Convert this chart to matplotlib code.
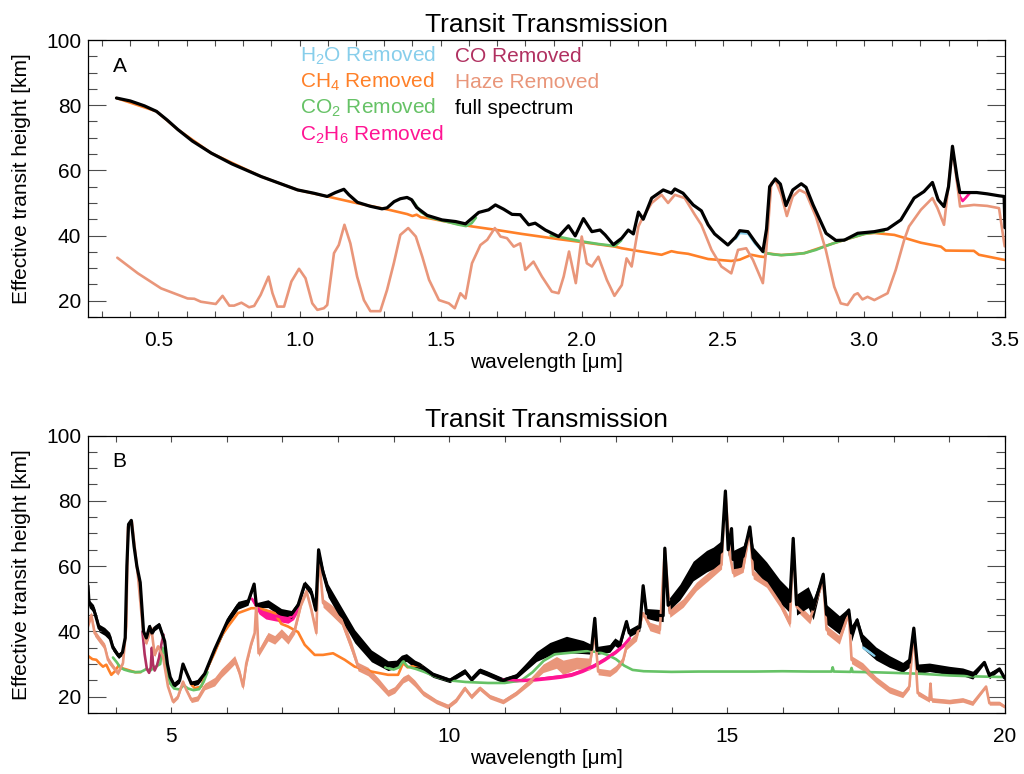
import numpy as np
import matplotlib.pyplot as plt
from matplotlib.ticker import MultipleLocator, FormatStrFormatter

plt.rcParams['font.family'] = ['Liberation Sans', 'DejaVu Sans']
plt.rcParams['mathtext.fontset'] = 'custom'
plt.rcParams['mathtext.rm'] = 'Liberation Sans'
plt.rcParams['mathtext.default'] = 'regular'

# colours for each model run
colors = {
    'h2o': '#87CEEB',
    'ch4': '#FF8028',
    'co2': '#66C266',
    'c2h6': '#FF1493',
    'co': '#B03060',
    'haze': '#E9967A',
    'full': 'black',
}

# ---------------- panel A : 0.25 - 3.5 micron  [wavelength, height] ----------------
full_a = [[
    [0.351, 82.2], [0.40, 81.3], [0.45, 79.8], [0.493, 78.1], [0.53, 75.5], [0.569, 72.5],
    [0.62, 69.0], [0.687, 65.3], [0.76, 62.0], [0.864, 58.1], [0.93, 56.0], [0.993, 54.0],
    [1.05, 53.0], [1.098, 52.0], [1.127, 53.2], [1.157, 54.2], [1.175, 52.5], [1.205, 50.2],
    [1.25, 49.0], [1.292, 48.2], [1.31, 48.5], [1.335, 50.4], [1.357, 51.3], [1.381, 51.7],
    [1.397, 51.0], [1.415, 48.6], [1.452, 46.2], [1.505, 44.8], [1.553, 44.3], [1.588, 43.6],
    [1.611, 45.3], [1.635, 47.1], [1.67, 47.9], [1.694, 49.4], [1.723, 48.1], [1.753, 46.5],
    [1.782, 46.4], [1.812, 43.3], [1.835, 43.8], [1.871, 41.7], [1.918, 39.7], [1.953, 43.0],
    [1.977, 39.9], [2.006, 45.2], [2.036, 41.2], [2.065, 41.7], [2.083, 40.2], [2.112, 37.2],
    [2.142, 39.2], [2.165, 41.7], [2.183, 40.5], [2.201, 47.2], [2.218, 45.0], [2.248, 51.5],
    [2.289, 54.0], [2.318, 53.0], [2.330, 54.3], [2.359, 53.0], [2.395, 49.4], [2.424, 47.6],
    [2.448, 43.3], [2.471, 40.5], [2.518, 37.1], [2.545, 39.5], [2.560, 41.5], [2.589, 41.2],
    [2.615, 38.0], [2.642, 35.1], [2.655, 42.0], [2.666, 55.0], [2.686, 57.4], [2.704, 55.8],
    [2.724, 49.2], [2.748, 54.0], [2.778, 55.9], [2.795, 54.8], [2.820, 49.4], [2.866, 40.7],
    [2.901, 38.5], [2.931, 38.6], [2.978, 40.7], [3.037, 41.2], [3.084, 42.0], [3.131, 44.8],
    [3.178, 51.5], [3.213, 53.5], [3.243, 56.3], [3.263, 51.0], [3.284, 48.9], [3.300, 55.0],
    [3.314, 67.4], [3.330, 58.0], [3.340, 53.2], [3.40, 53.2], [3.437, 52.8], [3.479, 52.2],
    [3.497, 52.0], [3.50, 42.4],
]]

ch4_a = [[
    [0.351, 82.2], [0.493, 78.1], [0.569, 72.5], [0.687, 65.3], [0.864, 58.1], [0.993, 54.0],
    [1.098, 52.0], [1.20, 50.0], [1.317, 47.9], [1.381, 46.6], [1.40, 46.0], [1.415, 46.4],
    [1.43, 45.6], [1.459, 45.3], [1.535, 44.0], [1.611, 42.8], [1.70, 41.7], [1.788, 40.5],
    [1.918, 38.9], [2.00, 38.0], [2.118, 36.6], [2.142, 36.1], [2.176, 35.6], [2.283, 34.1],
    [2.318, 35.2], [2.340, 34.8], [2.377, 34.4], [2.448, 32.8], [2.530, 32.2], [2.560, 32.6],
    [2.601, 34.1], [2.630, 33.6], [2.648, 33.4], [2.654, 34.6], [2.707, 34.0], [2.789, 34.6],
    [2.895, 37.7], [3.002, 40.5], [3.037, 40.8], [3.108, 40.2], [3.202, 37.8], [3.273, 36.6],
    [3.290, 35.4], [3.390, 35.3], [3.408, 34.1], [3.50, 32.5],
]]

co2_a = [
    [[1.40, 50.8], [1.43, 47.2], [1.46, 45.6], [1.52, 44.3], [1.56, 43.4], [1.59, 42.9],
     [1.61, 43.8], [1.625, 45.5]],
    [[1.89, 40.0], [1.92, 39.6], [1.96, 38.9], [2.00, 38.2], [2.06, 37.4], [2.118, 36.8],
     [2.14, 38.5]],
    [[2.640, 35.3], [2.654, 34.6], [2.68, 34.2], [2.707, 34.0], [2.75, 34.2], [2.789, 34.6],
     [2.83, 35.6], [2.865, 36.8], [2.895, 37.7], [2.95, 39.2], [3.002, 40.5], [3.04, 41.0],
     [3.07, 41.3]],
]

h2o_a = [[[2.545, 39.0], [2.56, 40.8], [2.59, 40.6], [2.615, 37.5], [2.645, 34.8]]]

c2h6_a = [[[3.33, 57.0], [3.34, 52.0], [3.35, 50.6], [3.36, 51.5], [3.375, 53.0]]]

haze_a = [[
    [0.354, 33.2], [0.427, 28.4], [0.509, 23.8], [0.603, 20.7], [0.627, 20.6], [0.650, 19.7],
    [0.703, 19.0], [0.727, 21.5], [0.751, 18.5], [0.768, 18.5], [0.794, 19.4], [0.821, 18.0],
    [0.839, 18.4], [0.862, 21.8], [0.890, 27.4], [0.904, 22.3], [0.921, 18.2], [0.945, 18.2],
    [0.971, 25.9], [0.998, 29.8], [1.021, 26.9], [1.045, 19.2], [1.063, 17.2], [1.086, 17.7],
    [1.098, 18.7], [1.122, 34.6], [1.139, 37.1], [1.159, 43.3], [1.180, 37.6], [1.204, 27.4],
    [1.228, 20.2], [1.251, 16.8], [1.286, 16.8], [1.310, 23.3], [1.334, 31.5], [1.357, 40.2],
    [1.385, 42.3], [1.412, 39.7], [1.435, 33.5], [1.459, 26.4], [1.494, 20.2], [1.529, 19.2],
    [1.550, 17.7], [1.570, 22.3], [1.588, 20.7], [1.611, 31.5], [1.641, 37.1], [1.665, 38.7],
    [1.692, 42.3], [1.712, 39.7], [1.735, 39.2], [1.759, 36.6], [1.782, 37.6], [1.800, 29.5],
    [1.829, 32.0], [1.859, 27.4], [1.894, 22.8], [1.918, 22.3], [1.936, 27.4], [1.955, 35.1],
    [1.979, 25.4], [2.000, 39.7], [2.018, 31.5], [2.036, 30.5], [2.059, 33.5], [2.089, 26.4],
    [2.116, 21.5], [2.142, 24.8], [2.159, 33.0], [2.177, 30.5], [2.201, 42.8], [2.212, 44.8],
    [2.248, 50.0], [2.283, 52.5], [2.306, 50.0], [2.330, 52.5], [2.365, 51.5], [2.400, 46.5],
    [2.424, 43.3], [2.460, 35.6], [2.495, 30.5], [2.530, 28.4], [2.554, 35.6], [2.583, 36.1],
    [2.607, 32.5], [2.642, 25.4], [2.654, 35.6], [2.672, 56.1], [2.686, 57.1], [2.707, 52.5],
    [2.727, 46.0], [2.748, 52.0], [2.772, 54.0], [2.795, 53.0], [2.830, 45.8], [2.865, 35.6],
    [2.895, 24.3], [2.918, 19.2], [2.942, 18.7], [2.966, 21.8], [2.978, 22.3], [2.995, 20.4],
    [3.013, 21.2], [3.037, 20.2], [3.084, 22.3], [3.113, 29.5], [3.143, 38.7], [3.160, 42.8],
    [3.202, 47.9], [3.243, 51.5], [3.261, 48.4], [3.284, 43.3], [3.302, 57.1], [3.314, 66.3],
    [3.329, 57.1], [3.341, 48.9], [3.390, 49.4], [3.437, 49.1], [3.479, 48.4], [3.499, 36.7],
]]

# ---------------- panel B : 3.5 - 20 micron  [wavelength, height, scatter] ----------------
full_b = [[
    [3.50, 54.0, 0.5], [3.52, 48.5, 1.2], [3.60, 47.0, 1.2], [3.66, 43.5, 1.2], [3.70, 41.0, 1.2],
    [3.80, 40.0, 1.2], [3.89, 38.5, 1.2], [3.95, 35.0, 1.0], [4.05, 32.5, 0.8], [4.12, 33.5, 0.8],
    [4.17, 38.0, 0.5], [4.20, 60.0, 0.3], [4.23, 72.8, 0.3], [4.28, 74.0, 0.3], [4.33, 66.0, 0.3],
    [4.38, 60.0, 0.3], [4.44, 55.0, 0.3], [4.50, 40.0, 0.5], [4.55, 38.0, 0.5], [4.61, 41.5, 0.8],
    [4.65, 39.5, 0.8], [4.70, 41.0, 0.8], [4.78, 42.0, 0.8], [4.83, 39.5, 0.8], [4.88, 37.0, 0.5],
    [4.93, 30.0, 0.5], [4.98, 26.0, 0.5], [5.05, 23.6, 0.8], [5.15, 25.0, 0.8], [5.21, 30.0, 0.5],
    [5.27, 27.5, 0.5], [5.36, 24.0, 0.8], [5.48, 24.5, 0.8], [5.60, 27.0, 0.8], [5.78, 34.5, 1.0],
    [6.02, 43.5, 1.2], [6.20, 48.0, 1.2], [6.38, 49.0, 1.0], [6.49, 54.5, 0.5], [6.53, 48.0, 0.8],
    [6.74, 48.5, 1.2], [6.98, 45.8, 1.2], [7.16, 45.2, 1.2], [7.28, 48.0, 1.2], [7.40, 54.5, 1.0],
    [7.52, 52.0, 1.2], [7.60, 46.5, 1.0], [7.65, 65.0, 0.5], [7.73, 58.0, 1.5], [7.82, 52.5, 2.0],
    [8.06, 45.5, 2.0], [8.30, 38.5, 2.0], [8.60, 32.5, 1.8], [8.90, 29.5, 1.5], [9.05, 30.0, 1.2],
    [9.14, 31.5, 1.2], [9.23, 32.0, 1.2], [9.38, 30.0, 1.2], [9.47, 29.5, 1.0], [9.71, 26.7, 0.8],
    [10.01, 25.0, 0.7], [10.28, 27.8, 0.8], [10.40, 25.3, 0.7], [10.55, 28.0, 0.8],
    [10.67, 27.2, 0.8], [10.97, 25.0, 0.8], [11.21, 26.3, 0.8], [11.57, 32.3, 1.5],
    [11.81, 34.6, 2.0], [12.11, 36.0, 2.5], [12.41, 35.2, 2.0], [12.56, 34.5, 1.5],
    [12.62, 44.0, 0.5], [12.66, 34.2, 1.2], [12.89, 34.8, 1.2], [12.98, 36.8, 1.2],
    [13.07, 35.8, 1.2], [13.19, 43.0, 0.8], [13.24, 39.5, 1.2], [13.43, 41.3, 1.2],
    [13.49, 54.0, 0.5], [13.55, 45.5, 1.5], [13.73, 45.0, 1.8], [13.85, 44.8, 1.8],
    [13.88, 65.5, 0.5], [13.94, 48.0, 1.8], [14.15, 52.0, 2.4], [14.39, 58.5, 3.0],
    [14.63, 61.5, 3.3], [14.75, 62.5, 3.3], [14.90, 64.5, 3.3], [14.97, 83.0, 0.5],
    [15.02, 65.0, 2.0], [15.08, 71.5, 0.5], [15.11, 62.0, 2.8], [15.29, 63.0, 3.3],
    [15.41, 72.0, 0.5], [15.47, 62.5, 3.3], [15.71, 58.0, 3.3], [15.95, 52.3, 3.5],
    [16.13, 49.2, 3.5], [16.19, 68.5, 0.5], [16.25, 48.2, 3.2], [16.46, 50.5, 3.2],
    [16.55, 46.8, 3.2], [16.73, 57.5, 0.8], [16.79, 45.2, 3.0], [17.02, 42.0, 2.8],
    [17.19, 46.5, 0.8], [17.24, 39.5, 2.5], [17.34, 43.5, 0.8], [17.44, 37.0, 2.2],
    [17.68, 33.2, 2.0], [17.92, 30.8, 1.8], [18.16, 29.0, 1.5], [18.28, 30.5, 1.5],
    [18.36, 41.0, 0.5], [18.43, 28.5, 1.5], [18.64, 29.0, 1.3], [19.00, 28.0, 1.3],
    [19.24, 27.6, 1.2], [19.42, 26.6, 1.2], [19.63, 30.5, 0.5], [19.72, 26.5, 1.0],
    [19.90, 28.5, 0.5], [19.99, 25.8, 0.8],
]]

ch4_b = [
    [[3.50, 32.5], [3.58, 31.5], [3.65, 31.3], [3.72, 30.0], [3.77, 29.2], [3.83, 29.8],
     [3.88, 28.0], [3.92, 26.7], [3.98, 27.7], [4.05, 29.5], [4.10, 28.8], [4.20, 28.3],
     [4.35, 27.5], [4.45, 27.5]],
    [[5.35, 24.0], [5.42, 22.6], [5.54, 23.1], [5.66, 29.2], [5.78, 33.5], [5.90, 38.5],
     [6.02, 41.5], [6.20, 45.6], [6.44, 47.1], [6.56, 47.1], [6.70, 46.5], [6.86, 45.6],
     [6.98, 42.3], [7.10, 41.5], [7.28, 39.8], [7.40, 35.9], [7.58, 32.8], [7.73, 32.8],
     [7.91, 33.3], [8.12, 31.3], [8.30, 29.2], [8.60, 27.7], [8.90, 26.7], [9.08, 26.7],
     [9.17, 30.3], [9.25, 29.0], [9.40, 29.5], [9.50, 29.3]],
]

co2_b = [
    [[3.95, 32.0], [4.02, 30.5], [4.08, 29.0], [4.15, 28.3], [4.25, 27.8], [4.35, 27.5],
     [4.45, 27.6], [4.50, 28.0], [4.55, 28.5], [4.62, 28.0], [4.70, 29.0], [4.80, 30.0],
     [4.84, 35.0], [4.88, 33.0], [4.92, 28.0], [4.98, 24.0], [5.05, 22.5], [5.15, 22.2],
     [5.22, 23.5], [5.30, 22.5], [5.40, 22.0], [5.50, 22.3], [5.58, 24.5], [5.65, 27.5]],
    [[8.85, 29.0], [9.00, 28.3], [9.10, 29.0], [9.17, 31.0], [9.25, 29.2], [9.40, 28.5],
     [9.55, 27.6], [9.75, 26.2], [10.00, 25.0], [10.30, 24.5], [10.70, 24.2], [11.00, 24.2],
     [11.30, 25.0], [11.50, 27.5], [11.70, 31.0], [11.90, 33.0], [12.20, 33.5], [12.50, 34.0],
     [12.70, 33.6], [12.85, 32.8], [13.00, 31.5], [13.15, 29.5], [13.30, 28.2], [13.50, 27.8],
     [14.00, 27.6], [14.50, 27.7], [15.00, 27.7], [15.50, 27.7], [16.00, 27.8], [16.50, 27.7],
     [16.88, 27.7], [16.90, 29.0], [16.92, 27.7], [17.22, 27.6], [17.24, 28.8], [17.26, 27.6],
     [17.60, 27.5], [18.00, 27.3], [18.50, 27.0], [19.00, 26.5], [19.50, 26.2], [20.00, 26.0]],
]

h2o_b = [[[17.45, 35.0], [17.55, 33.8], [17.65, 32.6]]]

c2h6_b = [
    [[6.45, 50.0, 0.5], [6.52, 48.0, 1.0], [6.58, 46.5, 1.2], [6.70, 45.3, 1.5], [6.85, 44.8, 1.5],
     [7.00, 44.3, 1.5], [7.10, 44.0, 1.5], [7.20, 44.8, 1.2], [7.28, 47.0, 1.0], [7.33, 49.0, 0.5]],
    [[10.95, 25.3, 0.5], [11.20, 25.0, 0.5], [11.50, 25.2, 0.5], [11.80, 25.8, 0.6],
     [12.00, 26.2, 0.6], [12.20, 26.8, 0.6], [12.40, 28.0, 0.6], [12.60, 29.5, 0.6],
     [12.80, 31.5, 0.6], [13.00, 33.8, 0.6], [13.15, 36.0, 0.6], [13.25, 38.0, 0.5]],
]

co_b = [[[4.48, 40.0], [4.52, 33.0], [4.56, 28.5], [4.60, 27.3], [4.63, 29.0], [4.65, 35.0],
         [4.67, 30.0], [4.70, 28.0], [4.74, 29.5], [4.78, 32.0], [4.82, 36.0], [4.86, 39.0]]]

haze_b = [[
    [3.50, 42.0, 1.2], [3.56, 45.0, 1.0], [3.62, 39.5, 1.0], [3.71, 37.4, 1.0], [3.80, 35.4, 1.0],
    [3.86, 31.3, 1.0], [3.95, 29.2, 0.8], [4.04, 27.2, 0.6], [4.13, 30.3, 0.5], [4.19, 41.5, 0.3],
    [4.22, 72.0, 0.3], [4.29, 73.7, 0.3], [4.40, 56.8, 0.3], [4.49, 40.5, 0.5], [4.55, 36.4, 0.6],
    [4.64, 41.0, 0.6], [4.70, 32.8, 0.6], [4.76, 35.4, 0.6], [4.85, 32.3, 0.6], [4.94, 23.1, 0.6],
    [5.03, 18.5, 0.6], [5.12, 20.0, 0.6], [5.21, 24.6, 0.6], [5.27, 22.1, 0.6], [5.36, 19.0, 0.8],
    [5.48, 19.5, 0.8], [5.60, 23.1, 1.0], [5.78, 24.6, 1.3], [5.90, 27.2, 1.3], [6.02, 29.2, 1.3],
    [6.14, 31.3, 1.3], [6.23, 27.2, 1.3], [6.29, 23.1, 1.0], [6.35, 30.3, 1.3], [6.44, 36.4, 1.0],
    [6.50, 39.5, 0.8], [6.53, 48.7, 0.5], [6.57, 33.3, 1.0], [6.74, 38.4, 1.3], [6.86, 37.4, 1.3],
    [6.98, 39.5, 1.3], [7.10, 37.4, 1.3], [7.22, 40.5, 1.2], [7.34, 48.7, 1.0], [7.43, 52.3, 1.0],
    [7.52, 46.6, 1.0], [7.61, 39.5, 1.0], [7.65, 64.0, 0.5], [7.73, 48.7, 1.3], [7.88, 46.6, 1.6],
    [8.06, 43.6, 1.6], [8.24, 35.4, 1.6], [8.36, 29.2, 1.3], [8.54, 27.7, 1.3], [8.72, 24.6, 1.2],
    [8.90, 21.1, 1.0], [9.02, 22.1, 1.0], [9.17, 25.2, 1.0], [9.26, 26.0, 1.0], [9.38, 24.1, 1.0],
    [9.53, 21.1, 0.8], [9.77, 18.5, 0.7], [9.98, 17.0, 0.7], [10.13, 19.0, 0.7], [10.28, 22.6, 0.7],
    [10.40, 20.0, 0.7], [10.55, 22.6, 0.7], [10.73, 20.0, 0.7], [10.97, 18.5, 0.7],
    [11.21, 21.1, 0.7], [11.45, 24.6, 0.9], [11.69, 28.7, 1.3], [11.93, 30.5, 1.8],
    [12.05, 29.0, 2.2], [12.29, 30.3, 1.8], [12.53, 30.0, 1.8], [12.62, 39.5, 0.5],
    [12.68, 27.7, 1.0], [12.89, 27.2, 1.0], [13.01, 28.7, 1.0], [13.13, 31.3, 1.0],
    [13.19, 35.4, 1.0], [13.37, 38.4, 1.3], [13.49, 45.6, 0.5], [13.61, 41.5, 1.3],
    [13.79, 40.5, 1.3], [13.88, 65.0, 0.5], [13.97, 45.6, 1.3], [14.21, 48.7, 1.3],
    [14.45, 53.8, 1.3], [14.66, 56.8, 1.3], [14.90, 60.4, 1.3], [14.97, 82.4, 0.5],
    [15.05, 63.5, 1.0], [15.11, 57.9, 1.3], [15.29, 59.4, 1.3], [15.41, 71.2, 0.5],
    [15.47, 57.4, 1.3], [15.71, 54.8, 1.3], [15.95, 48.7, 1.3], [16.13, 42.5, 1.3],
    [16.19, 67.1, 0.5], [16.25, 47.6, 1.3], [16.49, 43.6, 1.3], [16.73, 55.8, 0.5],
    [16.79, 40.5, 1.3], [17.02, 37.4, 1.3], [17.19, 45.6, 0.5], [17.24, 31.3, 1.2],
    [17.44, 29.2, 1.2], [17.68, 25.2, 1.0], [17.92, 22.1, 1.0], [18.16, 20.6, 0.9],
    [18.28, 23.1, 0.8], [18.36, 40.5, 0.4], [18.43, 21.1, 0.8], [18.64, 19.0, 0.7],
    [18.66, 24.0, 0.3], [18.68, 19.0, 0.7], [19.00, 18.5, 0.7], [19.24, 19.0, 0.7],
    [19.42, 18.0, 0.7], [19.66, 23.1, 0.4], [19.72, 18.0, 0.6], [19.90, 18.0, 0.6],
    [19.99, 17.0, 0.5],
]]

legend_col1 = ['H$_2$O Removed', 'CH$_4$ Removed', 'CO$_2$ Removed', 'C$_2$H$_6$ Removed']
legend_col1_keys = ['h2o', 'ch4', 'co2', 'c2h6']
legend_col2 = ['CO Removed', 'Haze Removed', 'full spectrum']
legend_col2_keys = ['co', 'haze', 'full']


def trace(ax, segments, color, lw):
    for seg in segments:
        d = np.asarray(seg, dtype=float)
        ax.plot(d[:, 0], d[:, 1], color=color, lw=lw, solid_joinstyle='round',
                solid_capstyle='round')
        if d.shape[1] == 3:
            ax.fill_between(d[:, 0], d[:, 1] - d[:, 2], d[:, 1] + d[:, 2],
                            color=color, lw=0)


fig = plt.figure(figsize=(10.24, 7.74), dpi=100)
ax_a = fig.add_axes([0.0859, 0.5904, 0.8955, 0.3579])
ax_b = fig.add_axes([0.0859, 0.0788, 0.8955, 0.3585])

panels = [
    (ax_a, 'A', (0.25, 3.5), 0.5, 0.1, '%.1f',
     [('h2o', h2o_a), ('ch4', ch4_a), ('co2', co2_a), ('c2h6', c2h6_a), ('haze', haze_a),
      ('full', full_a)]),
    (ax_b, 'B', (3.5, 20), 5, 1, '%d',
     [('h2o', h2o_b), ('ch4', ch4_b), ('co2', co2_b), ('c2h6', c2h6_b), ('co', co_b),
      ('haze', haze_b), ('full', full_b)]),
]

for ax, tag, xlim, major, minor, fmt, series in panels:
    for key, segs in series:
        trace(ax, segs, colors[key], 2.3 if key == 'full' else 1.9)

    ax.set_xlim(*xlim)
    ax.set_ylim(15, 100)
    ax.xaxis.set_major_locator(MultipleLocator(major))
    ax.xaxis.set_minor_locator(MultipleLocator(minor))
    ax.xaxis.set_major_formatter(FormatStrFormatter(fmt))
    ax.yaxis.set_major_locator(MultipleLocator(20))
    ax.yaxis.set_minor_locator(MultipleLocator(5))
    ax.tick_params(which='both', direction='in', top=True, right=True,
                   labelsize=15, width=0.8, color='0.3')
    ax.tick_params(axis='y', which='major', length=13, pad=5)
    ax.tick_params(axis='y', which='minor', length=6.5)
    ax.tick_params(axis='x', which='both', length=4, pad=10)
    for sp in ax.spines.values():
        sp.set_linewidth(0.9)

    ax.set_title('Transit Transmission', fontsize=19, pad=6)
    ax.set_xlabel('wavelength [\u03bcm]', fontsize=15, labelpad=2)
    ax.set_ylabel('Effective transit height [km]', fontsize=15, labelpad=11)
    ax.text(0.027, 0.906, tag, transform=ax.transAxes, fontsize=15, ha='left', va='center')

# species labels in the upper panel
row_y = [0.9206, 0.8267, 0.7329, 0.635]
for i, (txt, key) in enumerate(zip(legend_col1, legend_col1_keys)):
    ax_a.text(0.231, row_y[i], txt, color=colors[key], transform=ax_a.transAxes,
              fontsize=15, ha='left', va='baseline')
for i, (txt, key) in enumerate(zip(legend_col2, legend_col2_keys)):
    ax_a.text(0.400, row_y[i], txt, color=colors[key], transform=ax_a.transAxes,
              fontsize=15, ha='left', va='baseline')

fig.savefig('out.png', dpi=100)
